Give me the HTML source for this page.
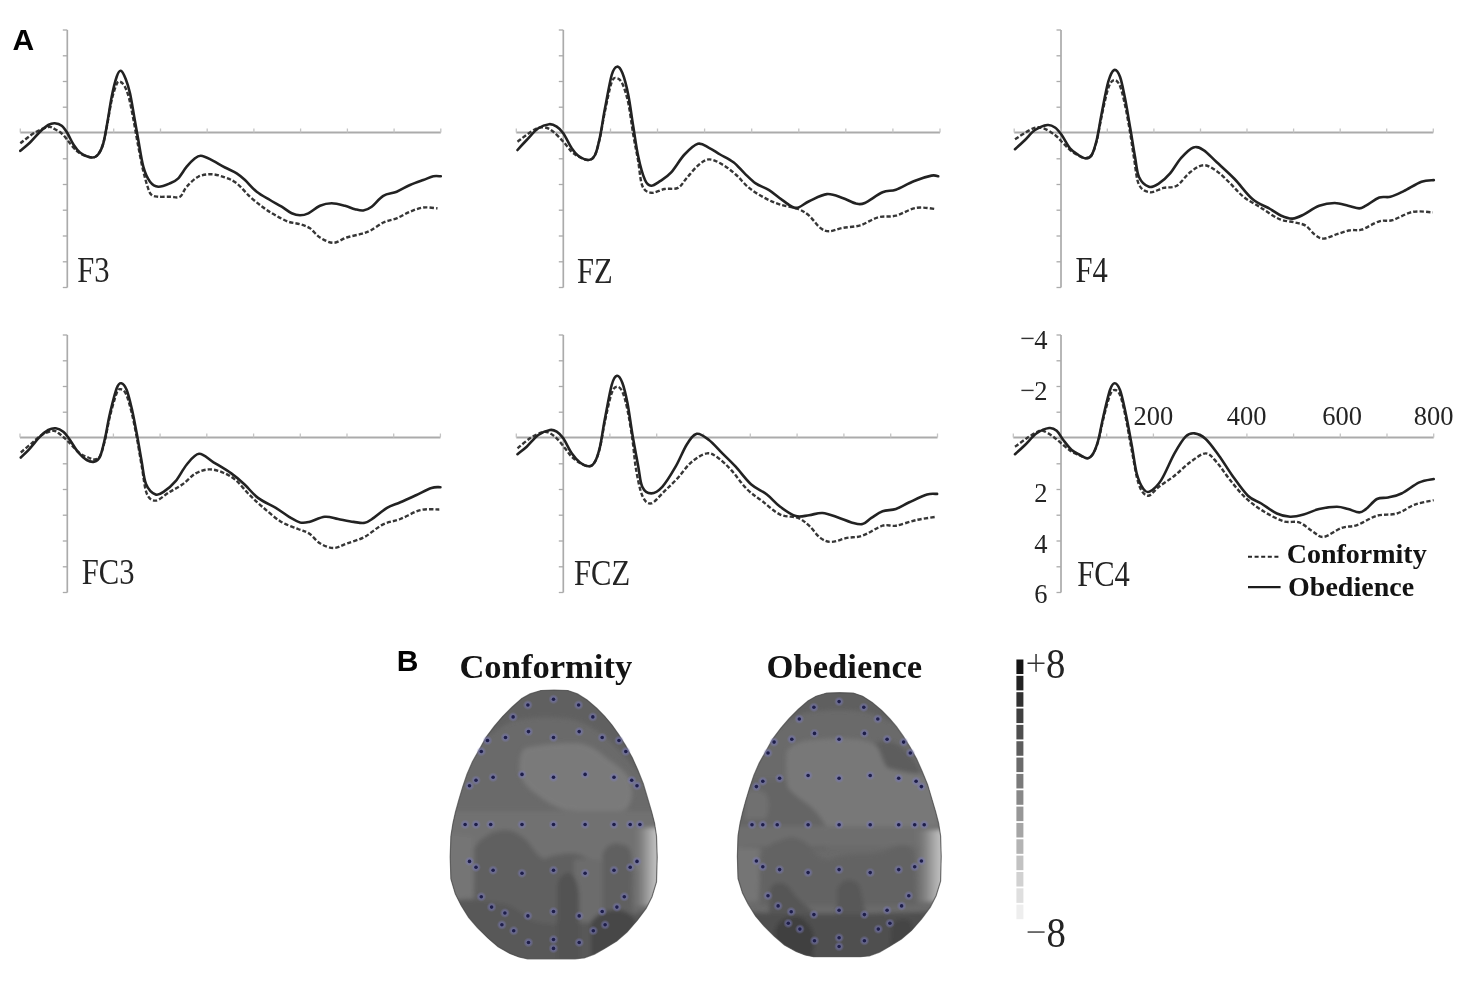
<!DOCTYPE html>
<html><head><meta charset="utf-8"><style>
html,body{margin:0;padding:0;background:#fff;}
body{width:1477px;height:984px;overflow:hidden;}
svg{display:block;}
text{opacity:0.99;}
.lab{font-family:"Liberation Serif",serif;font-size:36px;fill:#222;}
.num{font-family:"Liberation Serif",serif;font-size:26.5px;fill:#222;}
.leg{font-family:"Liberation Serif",serif;font-size:28px;font-weight:bold;fill:#111;}
.ttl{font-family:"Liberation Serif",serif;font-size:34.6px;font-weight:bold;fill:#111;}
.big{font-family:"Liberation Sans",sans-serif;font-size:30px;font-weight:bold;fill:#000;}
.cb{font-family:"Liberation Serif",serif;font-size:43px;fill:#222;}
</style></head><body>
<svg width="1477" height="984" viewBox="0 0 1477 984">
<defs><radialGradient id="halo"><stop offset="0" stop-color="#6a6ab0" stop-opacity="0.9"/><stop offset="0.5" stop-color="#7878b8" stop-opacity="0.55"/><stop offset="1" stop-color="#8080c0" stop-opacity="0"/></radialGradient><linearGradient id="edg" x1="0" x2="1" y1="0" y2="0"><stop offset="0" stop-color="#6a6a6a" stop-opacity="0"/><stop offset="0.45" stop-color="#8a8a8a"/><stop offset="0.8" stop-color="#b8b8b8"/><stop offset="1" stop-color="#c8c8c8"/></linearGradient><filter id="soft" x="-5%" y="-5%" width="110%" height="110%"><feGaussianBlur stdDeviation="2.2"/></filter></defs>
<rect width="1477" height="984" fill="#fff"/>
<text x="12.6" y="49.8" class="big">A</text>
<text x="396.8" y="670.8" class="big">B</text>
<line x1="20.3" y1="132.5" x2="440.8" y2="132.5" stroke="#ababab" stroke-width="1.8"/>
<line x1="67.3" y1="30.0" x2="67.3" y2="287.5" stroke="#ababab" stroke-width="1.7"/>
<line x1="62.8" y1="30.0" x2="67.3" y2="30.0" stroke="#ababab" stroke-width="1.3"/>
<line x1="62.8" y1="55.8" x2="67.3" y2="55.8" stroke="#ababab" stroke-width="1.3"/>
<line x1="62.8" y1="81.5" x2="67.3" y2="81.5" stroke="#ababab" stroke-width="1.3"/>
<line x1="62.8" y1="107.2" x2="67.3" y2="107.2" stroke="#ababab" stroke-width="1.3"/>
<line x1="62.8" y1="133.0" x2="67.3" y2="133.0" stroke="#ababab" stroke-width="1.3"/>
<line x1="62.8" y1="158.8" x2="67.3" y2="158.8" stroke="#ababab" stroke-width="1.3"/>
<line x1="62.8" y1="184.5" x2="67.3" y2="184.5" stroke="#ababab" stroke-width="1.3"/>
<line x1="62.8" y1="210.2" x2="67.3" y2="210.2" stroke="#ababab" stroke-width="1.3"/>
<line x1="62.8" y1="236.0" x2="67.3" y2="236.0" stroke="#ababab" stroke-width="1.3"/>
<line x1="62.8" y1="261.8" x2="67.3" y2="261.8" stroke="#ababab" stroke-width="1.3"/>
<line x1="62.8" y1="287.5" x2="67.3" y2="287.5" stroke="#ababab" stroke-width="1.3"/>
<line x1="20.3" y1="128.5" x2="20.3" y2="132.5" stroke="#c4c4c4" stroke-width="1.3"/>
<line x1="67.0" y1="128.5" x2="67.0" y2="132.5" stroke="#c4c4c4" stroke-width="1.3"/>
<line x1="113.7" y1="128.5" x2="113.7" y2="132.5" stroke="#c4c4c4" stroke-width="1.3"/>
<line x1="160.5" y1="128.5" x2="160.5" y2="132.5" stroke="#c4c4c4" stroke-width="1.3"/>
<line x1="207.2" y1="128.5" x2="207.2" y2="132.5" stroke="#c4c4c4" stroke-width="1.3"/>
<line x1="253.9" y1="128.5" x2="253.9" y2="132.5" stroke="#c4c4c4" stroke-width="1.3"/>
<line x1="300.6" y1="128.5" x2="300.6" y2="132.5" stroke="#c4c4c4" stroke-width="1.3"/>
<line x1="347.4" y1="128.5" x2="347.4" y2="132.5" stroke="#c4c4c4" stroke-width="1.3"/>
<line x1="394.1" y1="128.5" x2="394.1" y2="132.5" stroke="#c4c4c4" stroke-width="1.3"/>
<line x1="440.8" y1="128.5" x2="440.8" y2="132.5" stroke="#c4c4c4" stroke-width="1.3"/>
<path d="M20.3,143.3 C22.8,141.5 30.3,135.2 35.0,132.5 C39.7,129.8 45.0,127.5 48.3,127.0 C51.6,126.5 52.5,127.9 55.0,129.2 C57.5,130.5 60.2,131.9 63.3,135.0 C66.3,138.1 70.5,144.4 73.3,147.5 C76.1,150.6 76.9,151.6 80.0,153.3 C83.1,155.0 88.7,157.3 91.7,157.5 C94.8,157.7 96.4,156.6 98.3,154.2 C100.2,151.8 101.8,148.5 103.3,143.3 C104.8,138.1 106.1,130.2 107.5,123.0 C108.9,115.8 110.2,106.5 111.7,100.0 C113.2,93.5 115.3,87.0 116.7,84.0 C118.1,81.0 118.7,81.4 120.0,81.7 C121.3,82.0 123.0,83.3 124.5,86.0 C126.0,88.7 127.5,92.3 129.0,98.0 C130.5,103.7 132.0,112.2 133.5,120.0 C135.0,127.8 136.4,136.7 138.0,145.0 C139.6,153.3 141.3,162.8 143.0,170.0 C144.7,177.2 146.6,183.8 148.0,188.0 C149.4,192.2 150.0,193.6 151.7,195.0 C153.4,196.4 154.9,196.4 158.0,196.7 C161.1,197.0 166.3,196.7 170.0,196.7 C173.7,196.7 177.2,198.4 180.0,196.7 C182.8,195.0 183.6,190.0 186.7,186.7 C189.8,183.4 194.1,178.8 198.3,176.7 C202.5,174.6 207.2,174.1 211.7,174.2 C216.1,174.3 220.8,176.0 225.0,177.5 C229.2,179.0 232.5,180.1 236.7,183.3 C240.9,186.5 245.6,192.7 250.0,196.7 C254.4,200.7 259.1,204.4 263.3,207.5 C267.5,210.6 270.8,212.6 275.0,215.0 C279.2,217.4 284.1,220.2 288.3,221.7 C292.5,223.2 296.4,223.1 300.0,224.2 C303.6,225.3 306.7,226.1 310.0,228.3 C313.3,230.5 316.1,235.1 320.0,237.5 C323.9,239.9 328.9,242.8 333.3,242.8 C337.8,242.8 342.2,238.9 346.7,237.5 C351.1,236.1 356.1,235.3 360.0,234.2 C363.9,233.1 366.1,232.8 370.0,230.8 C373.9,228.9 378.9,224.6 383.3,222.5 C387.8,220.4 392.2,220.1 396.7,218.3 C401.1,216.5 405.6,213.5 410.0,211.7 C414.4,209.9 418.7,208.1 423.3,207.5 C427.9,206.9 435.1,208.2 437.5,208.3" fill="none" stroke="#363636" stroke-width="2.4" stroke-dasharray="4.3 2.1" stroke-linejoin="round"/>
<path d="M20.3,150.8 C21.9,149.4 26.7,145.7 30.0,142.5 C33.3,139.3 37.0,134.6 40.0,131.7 C43.0,128.8 45.8,126.4 48.3,125.0 C50.8,123.6 52.5,123.2 54.7,123.3 C56.9,123.4 59.6,124.1 61.7,125.8 C63.8,127.5 65.6,130.2 67.5,133.3 C69.4,136.4 71.2,141.0 73.3,144.2 C75.4,147.4 76.9,150.3 80.0,152.5 C83.1,154.7 88.7,157.2 91.7,157.5 C94.8,157.8 96.4,156.6 98.3,154.2 C100.2,151.8 101.8,148.7 103.3,143.3 C104.8,137.9 106.1,129.5 107.5,121.7 C108.9,113.9 110.2,104.2 111.7,96.7 C113.2,89.2 115.2,81.0 116.7,76.7 C118.2,72.4 119.3,70.4 120.8,70.8 C122.3,71.2 124.3,75.5 125.8,79.2 C127.3,83.0 128.6,87.0 130.0,93.3 C131.4,99.5 132.8,108.9 134.2,116.7 C135.6,124.5 136.8,131.7 138.3,140.0 C139.8,148.3 141.4,159.8 143.3,166.7 C145.2,173.6 147.5,178.4 150.0,181.7 C152.5,185.0 155.0,186.4 158.3,186.7 C161.6,187.0 166.7,184.7 170.0,183.3 C173.3,181.9 175.5,181.1 178.3,178.3 C181.1,175.5 183.9,170.0 186.7,166.7 C189.5,163.4 192.7,160.1 195.0,158.3 C197.3,156.5 198.3,155.7 200.8,155.8 C203.3,156.0 206.0,157.2 210.0,159.2 C214.0,161.1 220.6,165.2 225.0,167.5 C229.4,169.8 233.4,171.2 236.7,173.3 C240.0,175.4 241.7,176.9 245.0,180.0 C248.3,183.1 252.5,188.4 256.7,191.7 C260.9,195.0 265.8,197.5 270.0,200.0 C274.2,202.5 278.1,204.5 281.7,206.7 C285.3,208.9 288.6,211.9 291.7,213.3 C294.8,214.7 297.2,215.3 300.0,215.3 C302.8,215.3 305.0,214.9 308.3,213.3 C311.6,211.7 316.1,207.5 320.0,205.8 C323.9,204.1 327.5,203.3 331.7,203.3 C335.9,203.3 341.1,204.8 345.0,205.8 C348.9,206.8 351.9,208.4 355.0,209.2 C358.1,210.0 360.5,210.9 363.3,210.5 C366.1,210.1 368.4,209.1 371.7,206.7 C375.0,204.2 379.1,198.3 383.3,195.8 C387.5,193.3 392.2,193.5 396.7,191.7 C401.1,189.9 405.6,186.9 410.0,185.0 C414.4,183.1 419.4,181.4 423.3,180.0 C427.2,178.6 430.4,176.9 433.3,176.3 C436.2,175.7 439.6,176.3 440.8,176.3" fill="none" stroke="#222222" stroke-width="2.6" stroke-linejoin="round" stroke-linecap="round"/>
<text x="77.3" y="282.3" class="lab" transform="translate(77.3,0) scale(0.85,1) translate(-77.3,0)">F3</text>
<line x1="516.3" y1="132.5" x2="940.0" y2="132.5" stroke="#ababab" stroke-width="1.8"/>
<line x1="563.3" y1="30.0" x2="563.3" y2="287.5" stroke="#ababab" stroke-width="1.7"/>
<line x1="558.8" y1="30.0" x2="563.3" y2="30.0" stroke="#ababab" stroke-width="1.3"/>
<line x1="558.8" y1="55.8" x2="563.3" y2="55.8" stroke="#ababab" stroke-width="1.3"/>
<line x1="558.8" y1="81.5" x2="563.3" y2="81.5" stroke="#ababab" stroke-width="1.3"/>
<line x1="558.8" y1="107.2" x2="563.3" y2="107.2" stroke="#ababab" stroke-width="1.3"/>
<line x1="558.8" y1="133.0" x2="563.3" y2="133.0" stroke="#ababab" stroke-width="1.3"/>
<line x1="558.8" y1="158.8" x2="563.3" y2="158.8" stroke="#ababab" stroke-width="1.3"/>
<line x1="558.8" y1="184.5" x2="563.3" y2="184.5" stroke="#ababab" stroke-width="1.3"/>
<line x1="558.8" y1="210.2" x2="563.3" y2="210.2" stroke="#ababab" stroke-width="1.3"/>
<line x1="558.8" y1="236.0" x2="563.3" y2="236.0" stroke="#ababab" stroke-width="1.3"/>
<line x1="558.8" y1="261.8" x2="563.3" y2="261.8" stroke="#ababab" stroke-width="1.3"/>
<line x1="558.8" y1="287.5" x2="563.3" y2="287.5" stroke="#ababab" stroke-width="1.3"/>
<line x1="516.3" y1="128.5" x2="516.3" y2="132.5" stroke="#c4c4c4" stroke-width="1.3"/>
<line x1="563.4" y1="128.5" x2="563.4" y2="132.5" stroke="#c4c4c4" stroke-width="1.3"/>
<line x1="610.5" y1="128.5" x2="610.5" y2="132.5" stroke="#c4c4c4" stroke-width="1.3"/>
<line x1="657.5" y1="128.5" x2="657.5" y2="132.5" stroke="#c4c4c4" stroke-width="1.3"/>
<line x1="704.6" y1="128.5" x2="704.6" y2="132.5" stroke="#c4c4c4" stroke-width="1.3"/>
<line x1="751.7" y1="128.5" x2="751.7" y2="132.5" stroke="#c4c4c4" stroke-width="1.3"/>
<line x1="798.8" y1="128.5" x2="798.8" y2="132.5" stroke="#c4c4c4" stroke-width="1.3"/>
<line x1="845.8" y1="128.5" x2="845.8" y2="132.5" stroke="#c4c4c4" stroke-width="1.3"/>
<line x1="892.9" y1="128.5" x2="892.9" y2="132.5" stroke="#c4c4c4" stroke-width="1.3"/>
<line x1="940.0" y1="128.5" x2="940.0" y2="132.5" stroke="#c4c4c4" stroke-width="1.3"/>
<path d="M517.5,141.7 C520.4,139.6 530.4,131.6 535.0,129.2 C539.6,126.8 542.0,127.1 545.0,127.5 C548.0,127.9 550.2,129.3 553.3,131.7 C556.3,134.1 560.2,138.4 563.3,141.7 C566.4,145.0 569.2,149.2 571.7,151.7 C574.2,154.2 575.5,155.1 578.3,156.5 C581.1,157.9 585.5,160.2 588.3,160.0 C591.1,159.8 593.0,158.8 595.0,155.0 C597.0,151.2 598.3,144.8 600.0,137.5 C601.7,130.2 603.0,120.2 605.0,111.0 C607.0,101.8 609.7,87.5 611.7,82.0 C613.7,76.5 615.2,78.0 617.0,78.3 C618.8,78.6 620.6,79.9 622.5,84.0 C624.4,88.1 626.5,94.5 628.3,103.0 C630.1,111.5 631.7,125.5 633.3,135.0 C634.9,144.5 636.5,151.6 638.0,160.0 C639.5,168.4 640.1,180.2 642.3,185.7 C644.5,191.2 647.5,192.2 651.2,192.8 C654.9,193.4 660.0,189.8 664.5,189.0 C669.0,188.2 674.2,189.8 677.9,187.9 C681.6,186.1 683.5,181.6 686.8,177.9 C690.1,174.2 694.2,168.7 697.9,165.6 C701.6,162.5 704.9,159.6 709.0,159.4 C713.1,159.2 717.9,162.0 722.4,164.5 C726.9,167.0 731.2,170.6 735.7,174.5 C740.2,178.4 744.3,184.0 749.1,187.9 C753.9,191.8 759.4,195.1 764.6,197.9 C769.8,200.7 774.6,202.8 780.2,204.6 C785.8,206.4 793.2,207.2 798.0,209.0 C802.8,210.8 805.4,212.5 809.1,215.7 C812.8,218.8 816.9,225.3 820.3,227.9 C823.6,230.5 825.5,231.3 829.2,231.3 C832.9,231.3 837.3,228.9 842.5,227.9 C847.7,226.9 854.4,227.1 860.3,225.3 C866.2,223.5 872.2,218.9 878.1,217.3 C884.0,215.7 889.6,217.3 895.9,215.7 C902.2,214.1 909.3,209.0 916.0,207.9 C922.7,206.8 932.7,208.8 936.0,209.0" fill="none" stroke="#363636" stroke-width="2.4" stroke-dasharray="4.3 2.1" stroke-linejoin="round"/>
<path d="M517.5,150.0 C519.0,148.3 523.2,143.6 526.7,140.0 C530.2,136.4 534.5,130.9 538.3,128.3 C542.0,125.7 546.1,124.5 549.2,124.2 C552.3,123.9 554.4,125.2 556.7,126.7 C559.1,128.2 560.8,129.7 563.3,133.3 C565.8,136.9 569.2,144.6 571.7,148.3 C574.2,152.1 575.5,153.9 578.3,155.8 C581.1,157.8 585.5,160.1 588.3,160.0 C591.1,159.9 593.0,158.9 595.0,155.0 C597.0,151.1 598.3,144.5 600.0,136.7 C601.7,128.9 603.0,118.6 605.0,108.3 C607.0,98.0 609.7,81.9 611.7,75.0 C613.7,68.1 615.2,67.0 617.0,66.7 C618.8,66.4 620.6,68.6 622.5,73.3 C624.4,78.0 626.5,86.1 628.3,95.0 C630.1,103.9 631.6,116.4 633.3,126.7 C635.0,137.0 636.3,147.8 638.3,156.7 C640.2,165.6 642.9,175.2 645.0,180.0 C647.1,184.8 648.7,185.5 651.2,185.7 C653.7,185.9 656.7,183.4 660.0,181.2 C663.3,179.0 667.1,176.8 671.2,172.3 C675.3,167.9 680.0,159.2 684.5,154.5 C689.0,149.8 693.8,144.9 697.9,143.8 C702.0,142.7 705.3,146.0 709.0,147.8 C712.7,149.6 716.0,152.1 720.1,154.5 C724.2,156.9 729.4,159.2 733.5,162.3 C737.6,165.5 740.9,169.9 744.6,173.4 C748.3,176.9 751.6,180.6 755.7,183.4 C759.8,186.2 764.7,187.3 769.1,190.1 C773.5,192.9 778.0,197.1 782.4,200.1 C786.8,203.1 791.3,207.7 795.8,207.9 C800.2,208.1 803.9,203.5 809.1,201.2 C814.3,198.9 821.3,194.6 826.9,194.1 C832.5,193.6 837.7,196.3 842.5,197.9 C847.3,199.5 852.2,202.7 855.9,203.5 C859.6,204.3 860.3,204.9 864.8,203.0 C869.2,201.1 877.4,194.5 882.6,192.3 C887.8,190.1 890.7,191.5 895.9,189.7 C901.1,187.8 907.8,183.5 913.7,181.2 C919.6,178.8 927.4,176.4 931.5,175.6 C935.6,174.8 937.1,176.2 938.2,176.3" fill="none" stroke="#222222" stroke-width="2.6" stroke-linejoin="round" stroke-linecap="round"/>
<text x="577.0" y="282.9" class="lab" transform="translate(577.0,0) scale(0.85,1) translate(-577.0,0)">FZ</text>
<line x1="1014.2" y1="132.5" x2="1433.3" y2="132.5" stroke="#ababab" stroke-width="1.8"/>
<line x1="1061.0" y1="30.0" x2="1061.0" y2="287.5" stroke="#ababab" stroke-width="1.7"/>
<line x1="1056.5" y1="30.0" x2="1061.0" y2="30.0" stroke="#ababab" stroke-width="1.3"/>
<line x1="1056.5" y1="55.8" x2="1061.0" y2="55.8" stroke="#ababab" stroke-width="1.3"/>
<line x1="1056.5" y1="81.5" x2="1061.0" y2="81.5" stroke="#ababab" stroke-width="1.3"/>
<line x1="1056.5" y1="107.2" x2="1061.0" y2="107.2" stroke="#ababab" stroke-width="1.3"/>
<line x1="1056.5" y1="133.0" x2="1061.0" y2="133.0" stroke="#ababab" stroke-width="1.3"/>
<line x1="1056.5" y1="158.8" x2="1061.0" y2="158.8" stroke="#ababab" stroke-width="1.3"/>
<line x1="1056.5" y1="184.5" x2="1061.0" y2="184.5" stroke="#ababab" stroke-width="1.3"/>
<line x1="1056.5" y1="210.2" x2="1061.0" y2="210.2" stroke="#ababab" stroke-width="1.3"/>
<line x1="1056.5" y1="236.0" x2="1061.0" y2="236.0" stroke="#ababab" stroke-width="1.3"/>
<line x1="1056.5" y1="261.8" x2="1061.0" y2="261.8" stroke="#ababab" stroke-width="1.3"/>
<line x1="1056.5" y1="287.5" x2="1061.0" y2="287.5" stroke="#ababab" stroke-width="1.3"/>
<line x1="1014.2" y1="128.5" x2="1014.2" y2="132.5" stroke="#c4c4c4" stroke-width="1.3"/>
<line x1="1060.8" y1="128.5" x2="1060.8" y2="132.5" stroke="#c4c4c4" stroke-width="1.3"/>
<line x1="1107.3" y1="128.5" x2="1107.3" y2="132.5" stroke="#c4c4c4" stroke-width="1.3"/>
<line x1="1153.9" y1="128.5" x2="1153.9" y2="132.5" stroke="#c4c4c4" stroke-width="1.3"/>
<line x1="1200.5" y1="128.5" x2="1200.5" y2="132.5" stroke="#c4c4c4" stroke-width="1.3"/>
<line x1="1247.0" y1="128.5" x2="1247.0" y2="132.5" stroke="#c4c4c4" stroke-width="1.3"/>
<line x1="1293.6" y1="128.5" x2="1293.6" y2="132.5" stroke="#c4c4c4" stroke-width="1.3"/>
<line x1="1340.2" y1="128.5" x2="1340.2" y2="132.5" stroke="#c4c4c4" stroke-width="1.3"/>
<line x1="1386.7" y1="128.5" x2="1386.7" y2="132.5" stroke="#c4c4c4" stroke-width="1.3"/>
<line x1="1433.3" y1="128.5" x2="1433.3" y2="132.5" stroke="#c4c4c4" stroke-width="1.3"/>
<path d="M1015.0,139.2 C1018.0,137.4 1028.6,130.1 1033.3,128.3 C1038.0,126.5 1039.7,127.2 1043.3,128.3 C1046.9,129.4 1051.7,132.5 1055.0,135.0 C1058.3,137.5 1060.8,140.8 1063.3,143.3 C1065.8,145.8 1067.5,148.0 1070.0,150.0 C1072.5,152.0 1075.7,154.1 1078.3,155.5 C1080.9,156.9 1083.6,158.4 1085.8,158.3 C1088.0,158.2 1089.9,157.9 1091.7,155.0 C1093.5,152.1 1095.0,147.5 1096.7,141.0 C1098.4,134.5 1099.8,124.8 1101.7,116.0 C1103.6,107.2 1106.2,94.0 1108.3,88.0 C1110.4,82.0 1112.2,80.3 1114.2,80.0 C1116.2,79.7 1118.2,81.8 1120.0,86.0 C1121.8,90.2 1123.3,97.3 1125.0,105.0 C1126.7,112.7 1128.5,123.2 1130.0,132.0 C1131.5,140.8 1132.5,149.2 1134.0,158.0 C1135.5,166.8 1136.2,178.8 1138.9,184.5 C1141.6,190.2 1145.9,191.7 1150.0,192.3 C1154.1,192.9 1158.9,189.0 1163.4,187.9 C1167.9,186.8 1172.3,188.3 1176.8,185.7 C1181.2,183.1 1185.6,175.7 1190.1,172.3 C1194.5,168.9 1199.0,165.4 1203.5,165.2 C1208.0,165.0 1212.3,168.2 1216.8,171.2 C1221.2,174.2 1225.8,179.1 1230.2,183.4 C1234.7,187.7 1238.3,192.7 1243.5,196.8 C1248.7,200.9 1255.4,204.2 1261.3,207.9 C1267.2,211.6 1273.5,216.6 1279.1,219.0 C1284.7,221.4 1290.2,221.3 1294.7,222.4 C1299.2,223.5 1302.5,223.7 1305.8,225.7 C1309.1,227.7 1311.7,232.4 1314.7,234.6 C1317.7,236.8 1319.9,238.7 1323.6,238.6 C1327.3,238.5 1332.5,235.6 1337.0,234.2 C1341.5,232.8 1346.2,230.9 1350.3,230.2 C1354.4,229.4 1356.7,231.2 1361.5,229.7 C1366.3,228.2 1374.1,222.9 1379.3,221.3 C1384.5,219.7 1387.0,221.7 1392.6,220.1 C1398.1,218.5 1405.9,213.2 1412.6,211.9 C1419.3,210.6 1429.3,212.3 1432.7,212.4" fill="none" stroke="#363636" stroke-width="2.4" stroke-dasharray="4.3 2.1" stroke-linejoin="round"/>
<path d="M1015.0,149.2 C1016.7,147.7 1021.7,143.2 1025.0,140.0 C1028.3,136.8 1031.2,132.5 1035.0,130.0 C1038.8,127.5 1044.2,125.4 1047.5,125.0 C1050.8,124.6 1052.6,125.8 1055.0,127.5 C1057.4,129.2 1059.2,131.5 1061.7,135.0 C1064.2,138.5 1067.2,145.0 1070.0,148.3 C1072.8,151.6 1075.7,153.3 1078.3,155.0 C1080.9,156.7 1083.6,158.3 1085.8,158.3 C1088.0,158.3 1089.9,158.1 1091.7,155.0 C1093.5,151.9 1095.0,146.9 1096.7,140.0 C1098.4,133.1 1099.8,123.0 1101.7,113.3 C1103.6,103.6 1106.2,88.9 1108.3,81.7 C1110.4,74.5 1112.2,70.8 1114.2,70.0 C1116.2,69.2 1118.2,72.0 1120.0,76.7 C1121.8,81.4 1123.3,90.0 1125.0,98.3 C1126.7,106.6 1128.3,117.0 1130.0,126.7 C1131.7,136.4 1133.5,148.3 1135.0,156.7 C1136.5,165.1 1136.7,172.0 1139.0,177.0 C1141.3,182.0 1145.6,185.7 1148.9,186.8 C1152.2,187.9 1155.5,185.6 1159.0,183.4 C1162.5,181.2 1166.4,177.7 1170.1,173.4 C1173.8,169.1 1177.3,162.1 1181.2,157.8 C1185.1,153.5 1189.7,148.7 1193.4,147.4 C1197.1,146.1 1199.6,147.6 1203.5,150.1 C1207.4,152.6 1211.6,157.5 1216.8,162.3 C1222.0,167.1 1228.7,172.9 1234.6,179.0 C1240.5,185.1 1246.5,194.0 1252.4,199.0 C1258.3,204.0 1265.4,206.2 1270.2,209.0 C1275.0,211.8 1277.6,214.1 1281.3,215.7 C1285.0,217.3 1288.8,218.8 1292.5,218.6 C1296.2,218.4 1299.1,216.8 1303.6,214.6 C1308.0,212.4 1314.0,207.6 1319.2,205.7 C1324.4,203.8 1329.9,203.0 1334.7,203.0 C1339.5,203.0 1344.0,204.8 1348.1,205.7 C1352.2,206.6 1356.2,208.4 1359.2,208.4 C1362.2,208.4 1362.6,207.5 1365.9,205.7 C1369.2,203.9 1375.2,199.0 1379.3,197.5 C1383.4,196.0 1386.3,197.9 1390.4,196.8 C1394.5,195.8 1398.5,193.7 1403.7,191.2 C1408.9,188.7 1416.5,183.5 1421.5,181.7 C1426.5,179.8 1431.8,180.4 1433.8,180.1" fill="none" stroke="#222222" stroke-width="2.6" stroke-linejoin="round" stroke-linecap="round"/>
<text x="1075.4" y="282.1" class="lab" transform="translate(1075.4,0) scale(0.85,1) translate(-1075.4,0)">F4</text>
<line x1="20.0" y1="437.5" x2="440.4" y2="437.5" stroke="#ababab" stroke-width="1.8"/>
<line x1="67.3" y1="335.0" x2="67.3" y2="592.5" stroke="#ababab" stroke-width="1.7"/>
<line x1="62.8" y1="335.0" x2="67.3" y2="335.0" stroke="#ababab" stroke-width="1.3"/>
<line x1="62.8" y1="360.8" x2="67.3" y2="360.8" stroke="#ababab" stroke-width="1.3"/>
<line x1="62.8" y1="386.5" x2="67.3" y2="386.5" stroke="#ababab" stroke-width="1.3"/>
<line x1="62.8" y1="412.2" x2="67.3" y2="412.2" stroke="#ababab" stroke-width="1.3"/>
<line x1="62.8" y1="438.0" x2="67.3" y2="438.0" stroke="#ababab" stroke-width="1.3"/>
<line x1="62.8" y1="463.8" x2="67.3" y2="463.8" stroke="#ababab" stroke-width="1.3"/>
<line x1="62.8" y1="489.5" x2="67.3" y2="489.5" stroke="#ababab" stroke-width="1.3"/>
<line x1="62.8" y1="515.2" x2="67.3" y2="515.2" stroke="#ababab" stroke-width="1.3"/>
<line x1="62.8" y1="541.0" x2="67.3" y2="541.0" stroke="#ababab" stroke-width="1.3"/>
<line x1="62.8" y1="566.8" x2="67.3" y2="566.8" stroke="#ababab" stroke-width="1.3"/>
<line x1="62.8" y1="592.5" x2="67.3" y2="592.5" stroke="#ababab" stroke-width="1.3"/>
<line x1="20.0" y1="433.5" x2="20.0" y2="437.5" stroke="#c4c4c4" stroke-width="1.3"/>
<line x1="66.7" y1="433.5" x2="66.7" y2="437.5" stroke="#c4c4c4" stroke-width="1.3"/>
<line x1="113.4" y1="433.5" x2="113.4" y2="437.5" stroke="#c4c4c4" stroke-width="1.3"/>
<line x1="160.1" y1="433.5" x2="160.1" y2="437.5" stroke="#c4c4c4" stroke-width="1.3"/>
<line x1="206.8" y1="433.5" x2="206.8" y2="437.5" stroke="#c4c4c4" stroke-width="1.3"/>
<line x1="253.6" y1="433.5" x2="253.6" y2="437.5" stroke="#c4c4c4" stroke-width="1.3"/>
<line x1="300.3" y1="433.5" x2="300.3" y2="437.5" stroke="#c4c4c4" stroke-width="1.3"/>
<line x1="347.0" y1="433.5" x2="347.0" y2="437.5" stroke="#c4c4c4" stroke-width="1.3"/>
<line x1="393.7" y1="433.5" x2="393.7" y2="437.5" stroke="#c4c4c4" stroke-width="1.3"/>
<line x1="440.4" y1="433.5" x2="440.4" y2="437.5" stroke="#c4c4c4" stroke-width="1.3"/>
<path d="M20.8,452.5 C22.6,451.0 28.2,446.2 31.7,443.3 C35.2,440.4 38.1,437.1 41.7,435.0 C45.3,432.9 50.2,430.9 53.3,430.8 C56.3,430.7 57.5,432.4 60.0,434.2 C62.5,436.0 65.0,438.5 68.3,441.7 C71.6,444.9 76.7,450.7 80.0,453.3 C83.3,455.9 85.9,456.5 88.3,457.5 C90.7,458.5 92.2,459.8 94.2,459.5 C96.2,459.2 98.2,459.2 100.0,456.0 C101.8,452.8 103.3,446.7 105.0,440.0 C106.7,433.3 108.0,423.8 110.0,416.0 C112.0,408.2 114.9,397.5 116.7,393.0 C118.5,388.5 119.2,389.0 120.8,389.2 C122.3,389.4 124.2,390.2 126.0,394.0 C127.8,397.8 129.7,404.8 131.5,412.0 C133.3,419.2 135.0,428.0 136.7,437.0 C138.4,446.0 140.0,456.6 141.7,466.0 C143.4,475.4 144.4,487.6 146.7,493.4 C149.0,499.2 151.9,500.8 155.6,500.6 C159.3,500.4 164.6,495.0 169.0,492.3 C173.4,489.6 177.9,487.6 182.3,484.5 C186.8,481.4 191.2,475.9 195.7,473.4 C200.1,470.9 204.6,469.6 209.0,469.4 C213.4,469.2 218.0,470.5 222.4,472.3 C226.8,474.1 231.2,476.4 235.7,480.1 C240.1,483.8 244.7,490.1 249.1,494.5 C253.5,498.9 257.2,502.4 262.4,506.8 C267.6,511.2 274.3,517.5 280.2,521.2 C286.1,524.9 293.2,527.0 298.0,529.0 C302.8,531.0 305.4,531.1 309.1,533.5 C312.8,535.9 316.2,541.1 320.3,543.5 C324.4,545.9 329.2,548.0 333.6,548.0 C338.1,548.0 341.8,545.4 347.0,543.5 C352.2,541.6 358.9,539.9 364.8,536.8 C370.7,533.6 376.7,527.6 382.6,524.6 C388.5,521.6 394.1,521.4 400.4,519.0 C406.7,516.6 413.9,511.7 420.4,510.1 C426.9,508.5 436.1,509.6 439.3,509.5" fill="none" stroke="#363636" stroke-width="2.4" stroke-dasharray="4.3 2.1" stroke-linejoin="round"/>
<path d="M20.8,457.5 C22.3,456.0 26.8,451.8 30.0,448.3 C33.2,444.8 37.0,439.8 40.0,436.7 C43.0,433.6 45.7,431.4 48.3,430.0 C50.9,428.6 53.3,428.0 55.8,428.3 C58.3,428.6 60.9,429.8 63.3,431.7 C65.7,433.6 67.5,436.5 70.0,440.0 C72.5,443.5 75.5,449.2 78.3,452.5 C81.1,455.8 84.0,458.5 86.7,460.0 C89.4,461.5 92.0,462.2 94.2,461.7 C96.4,461.1 98.2,460.6 100.0,456.7 C101.8,452.8 103.3,445.5 105.0,438.3 C106.7,431.1 108.0,421.6 110.0,413.3 C112.0,405.0 114.8,393.3 116.7,388.3 C118.6,383.3 119.6,383.0 121.3,383.3 C123.0,383.6 125.0,385.8 126.7,390.0 C128.4,394.2 130.0,401.1 131.7,408.3 C133.4,415.5 135.0,424.4 136.7,433.3 C138.4,442.2 140.1,453.2 141.7,461.7 C143.2,470.1 143.7,478.5 146.0,484.0 C148.3,489.5 152.5,493.3 155.6,494.5 C158.7,495.7 161.2,493.4 164.5,491.2 C167.8,489.0 171.9,485.6 175.6,481.2 C179.3,476.8 182.9,469.1 186.8,464.5 C190.7,459.9 194.6,454.2 199.0,453.8 C203.4,453.4 208.1,459.0 213.5,462.3 C218.9,465.6 226.1,469.7 231.3,473.4 C236.5,477.1 240.2,480.4 244.6,484.5 C249.0,488.6 252.8,494.0 258.0,497.9 C263.2,501.8 270.6,504.8 275.8,507.9 C281.0,511.0 285.0,514.4 289.1,516.8 C293.2,519.2 296.9,521.5 300.2,522.4 C303.5,523.2 305.0,522.8 309.1,521.9 C313.2,521.0 319.9,517.3 324.7,516.8 C329.5,516.3 333.3,518.1 338.1,519.0 C342.9,519.9 349.2,521.3 353.6,521.9 C358.1,522.5 361.5,523.5 364.8,522.8 C368.1,522.1 370.0,520.4 373.7,517.9 C377.4,515.4 382.6,510.5 387.0,507.9 C391.4,505.3 395.6,504.4 400.4,502.3 C405.2,500.2 410.8,497.6 416.0,495.2 C421.2,492.8 427.4,489.2 431.5,487.9 C435.6,486.6 438.9,487.3 440.4,487.2" fill="none" stroke="#222222" stroke-width="2.6" stroke-linejoin="round" stroke-linecap="round"/>
<text x="81.8" y="584.2" class="lab" transform="translate(81.8,0) scale(0.85,1) translate(-81.8,0)">FC3</text>
<line x1="516.3" y1="437.5" x2="937.5" y2="437.5" stroke="#ababab" stroke-width="1.8"/>
<line x1="563.3" y1="335.0" x2="563.3" y2="592.5" stroke="#ababab" stroke-width="1.7"/>
<line x1="558.8" y1="335.0" x2="563.3" y2="335.0" stroke="#ababab" stroke-width="1.3"/>
<line x1="558.8" y1="360.8" x2="563.3" y2="360.8" stroke="#ababab" stroke-width="1.3"/>
<line x1="558.8" y1="386.5" x2="563.3" y2="386.5" stroke="#ababab" stroke-width="1.3"/>
<line x1="558.8" y1="412.2" x2="563.3" y2="412.2" stroke="#ababab" stroke-width="1.3"/>
<line x1="558.8" y1="438.0" x2="563.3" y2="438.0" stroke="#ababab" stroke-width="1.3"/>
<line x1="558.8" y1="463.8" x2="563.3" y2="463.8" stroke="#ababab" stroke-width="1.3"/>
<line x1="558.8" y1="489.5" x2="563.3" y2="489.5" stroke="#ababab" stroke-width="1.3"/>
<line x1="558.8" y1="515.2" x2="563.3" y2="515.2" stroke="#ababab" stroke-width="1.3"/>
<line x1="558.8" y1="541.0" x2="563.3" y2="541.0" stroke="#ababab" stroke-width="1.3"/>
<line x1="558.8" y1="566.8" x2="563.3" y2="566.8" stroke="#ababab" stroke-width="1.3"/>
<line x1="558.8" y1="592.5" x2="563.3" y2="592.5" stroke="#ababab" stroke-width="1.3"/>
<line x1="516.3" y1="433.5" x2="516.3" y2="437.5" stroke="#c4c4c4" stroke-width="1.3"/>
<line x1="563.1" y1="433.5" x2="563.1" y2="437.5" stroke="#c4c4c4" stroke-width="1.3"/>
<line x1="609.9" y1="433.5" x2="609.9" y2="437.5" stroke="#c4c4c4" stroke-width="1.3"/>
<line x1="656.7" y1="433.5" x2="656.7" y2="437.5" stroke="#c4c4c4" stroke-width="1.3"/>
<line x1="703.5" y1="433.5" x2="703.5" y2="437.5" stroke="#c4c4c4" stroke-width="1.3"/>
<line x1="750.3" y1="433.5" x2="750.3" y2="437.5" stroke="#c4c4c4" stroke-width="1.3"/>
<line x1="797.1" y1="433.5" x2="797.1" y2="437.5" stroke="#c4c4c4" stroke-width="1.3"/>
<line x1="843.9" y1="433.5" x2="843.9" y2="437.5" stroke="#c4c4c4" stroke-width="1.3"/>
<line x1="890.7" y1="433.5" x2="890.7" y2="437.5" stroke="#c4c4c4" stroke-width="1.3"/>
<line x1="937.5" y1="433.5" x2="937.5" y2="437.5" stroke="#c4c4c4" stroke-width="1.3"/>
<path d="M517.5,448.3 C519.6,446.6 526.0,440.9 530.0,438.3 C534.0,435.7 538.7,433.5 541.7,432.5 C544.8,431.5 545.8,431.5 548.3,432.5 C550.8,433.5 553.9,435.7 556.7,438.3 C559.5,440.9 562.5,445.2 565.0,448.3 C567.5,451.4 569.2,454.2 571.7,456.7 C574.2,459.1 577.1,461.4 580.0,463.0 C582.9,464.6 586.7,466.5 589.2,466.3 C591.7,466.1 593.2,464.8 595.0,461.7 C596.8,458.6 598.3,454.3 600.0,447.5 C601.7,440.7 603.0,430.1 605.0,421.0 C607.0,411.9 609.7,398.7 611.7,393.0 C613.7,387.3 615.2,386.9 617.0,386.7 C618.8,386.5 620.8,388.1 622.5,392.0 C624.2,395.9 625.8,402.0 627.5,410.0 C629.2,418.0 631.1,430.2 632.5,440.0 C633.9,449.8 634.4,459.7 636.0,469.0 C637.6,478.3 639.8,490.0 642.3,495.7 C644.8,501.4 647.5,504.1 651.2,503.4 C654.9,502.6 660.0,495.4 664.5,491.2 C669.0,486.9 673.4,482.7 677.9,477.9 C682.4,473.1 686.4,466.4 691.2,462.3 C696.0,458.2 702.3,454.1 706.8,453.4 C711.2,452.6 713.8,455.0 717.9,457.8 C722.0,460.6 726.5,464.9 731.3,470.1 C736.1,475.3 741.6,483.8 746.8,489.0 C752.0,494.2 756.8,496.9 762.4,501.2 C768.0,505.5 774.3,511.8 780.2,514.6 C786.1,517.4 793.2,516.0 798.0,517.9 C802.8,519.8 805.4,522.4 809.1,525.7 C812.8,529.0 816.6,535.2 820.3,537.9 C824.0,540.6 826.9,541.9 831.4,541.9 C835.9,541.9 841.8,538.9 847.0,537.9 C852.2,536.9 856.6,537.7 862.5,535.7 C868.4,533.7 877.0,527.4 882.6,525.7 C888.2,524.0 890.3,526.6 895.9,525.7 C901.5,524.8 909.3,521.6 916.0,520.1 C922.7,518.6 932.7,517.3 936.0,516.8" fill="none" stroke="#363636" stroke-width="2.4" stroke-dasharray="4.3 2.1" stroke-linejoin="round"/>
<path d="M517.5,454.2 C519.0,452.9 523.2,449.9 526.7,446.7 C530.2,443.5 534.4,437.8 538.3,435.0 C542.2,432.2 546.9,430.6 550.0,430.0 C553.1,429.4 554.5,430.3 556.7,431.7 C558.9,433.1 560.8,434.7 563.3,438.3 C565.8,441.9 568.9,449.3 571.7,453.3 C574.5,457.3 577.1,460.3 580.0,462.5 C582.9,464.7 586.7,466.4 589.2,466.3 C591.7,466.2 593.2,465.0 595.0,461.7 C596.8,458.4 598.3,453.9 600.0,446.7 C601.7,439.5 603.0,428.6 605.0,418.3 C607.0,408.0 609.7,392.1 611.7,385.0 C613.7,377.9 615.2,376.1 617.0,375.8 C618.8,375.5 620.8,378.7 622.5,383.3 C624.2,387.9 625.8,394.7 627.5,403.3 C629.2,411.9 630.7,424.4 632.5,435.0 C634.3,445.6 636.7,458.1 638.3,466.7 C639.9,475.3 640.1,482.4 642.3,486.8 C644.4,491.2 647.9,493.4 651.2,493.4 C654.5,493.4 658.2,491.2 662.3,486.8 C666.4,482.4 671.5,473.8 675.6,466.7 C679.7,459.6 683.3,450.0 686.8,444.5 C690.3,439.0 693.1,434.6 696.8,433.8 C700.5,433.1 704.7,436.7 709.0,440.0 C713.3,443.3 717.9,448.9 722.4,453.4 C726.9,457.8 730.9,461.5 735.7,466.7 C740.5,471.9 746.1,479.9 751.3,484.5 C756.5,489.1 762.1,490.8 766.9,494.5 C771.7,498.2 775.4,503.2 780.2,506.8 C785.0,510.4 791.0,514.7 795.8,516.1 C800.6,517.5 804.6,515.7 809.1,515.2 C813.6,514.7 817.7,512.6 822.5,513.0 C827.3,513.4 833.3,515.9 838.1,517.5 C842.9,519.1 847.3,521.3 851.4,522.4 C855.5,523.5 859.2,524.9 862.5,524.1 C865.8,523.4 868.0,520.0 871.4,517.9 C874.8,515.8 878.5,512.7 882.6,511.2 C886.7,509.7 891.5,510.5 895.9,509.0 C900.3,507.5 904.1,504.7 909.3,502.3 C914.5,499.9 922.5,495.9 927.1,494.5 C931.7,493.1 935.4,494.0 937.1,493.9" fill="none" stroke="#222222" stroke-width="2.6" stroke-linejoin="round" stroke-linecap="round"/>
<text x="574.0" y="584.7" class="lab" transform="translate(574.0,0) scale(0.85,1) translate(-574.0,0)">FCZ</text>
<line x1="1013.3" y1="437.5" x2="1433.7" y2="437.5" stroke="#ababab" stroke-width="1.8"/>
<line x1="1061.0" y1="335.0" x2="1061.0" y2="592.5" stroke="#ababab" stroke-width="1.7"/>
<line x1="1056.5" y1="335.0" x2="1061.0" y2="335.0" stroke="#ababab" stroke-width="1.3"/>
<line x1="1056.5" y1="360.8" x2="1061.0" y2="360.8" stroke="#ababab" stroke-width="1.3"/>
<line x1="1056.5" y1="386.5" x2="1061.0" y2="386.5" stroke="#ababab" stroke-width="1.3"/>
<line x1="1056.5" y1="412.2" x2="1061.0" y2="412.2" stroke="#ababab" stroke-width="1.3"/>
<line x1="1056.5" y1="438.0" x2="1061.0" y2="438.0" stroke="#ababab" stroke-width="1.3"/>
<line x1="1056.5" y1="463.8" x2="1061.0" y2="463.8" stroke="#ababab" stroke-width="1.3"/>
<line x1="1056.5" y1="489.5" x2="1061.0" y2="489.5" stroke="#ababab" stroke-width="1.3"/>
<line x1="1056.5" y1="515.2" x2="1061.0" y2="515.2" stroke="#ababab" stroke-width="1.3"/>
<line x1="1056.5" y1="541.0" x2="1061.0" y2="541.0" stroke="#ababab" stroke-width="1.3"/>
<line x1="1056.5" y1="566.8" x2="1061.0" y2="566.8" stroke="#ababab" stroke-width="1.3"/>
<line x1="1056.5" y1="592.5" x2="1061.0" y2="592.5" stroke="#ababab" stroke-width="1.3"/>
<line x1="1013.3" y1="433.5" x2="1013.3" y2="437.5" stroke="#c4c4c4" stroke-width="1.3"/>
<line x1="1060.0" y1="433.5" x2="1060.0" y2="437.5" stroke="#c4c4c4" stroke-width="1.3"/>
<line x1="1106.7" y1="433.5" x2="1106.7" y2="437.5" stroke="#c4c4c4" stroke-width="1.3"/>
<line x1="1153.4" y1="433.5" x2="1153.4" y2="437.5" stroke="#c4c4c4" stroke-width="1.3"/>
<line x1="1200.1" y1="433.5" x2="1200.1" y2="437.5" stroke="#c4c4c4" stroke-width="1.3"/>
<line x1="1246.9" y1="433.5" x2="1246.9" y2="437.5" stroke="#c4c4c4" stroke-width="1.3"/>
<line x1="1293.6" y1="433.5" x2="1293.6" y2="437.5" stroke="#c4c4c4" stroke-width="1.3"/>
<line x1="1340.3" y1="433.5" x2="1340.3" y2="437.5" stroke="#c4c4c4" stroke-width="1.3"/>
<line x1="1387.0" y1="433.5" x2="1387.0" y2="437.5" stroke="#c4c4c4" stroke-width="1.3"/>
<line x1="1433.7" y1="433.5" x2="1433.7" y2="437.5" stroke="#c4c4c4" stroke-width="1.3"/>
<path d="M1015.0,446.7 C1017.0,445.3 1022.8,440.9 1026.7,438.3 C1030.6,435.7 1035.5,432.6 1038.3,431.3 C1041.1,430.1 1040.8,429.9 1043.3,430.8 C1045.8,431.7 1050.0,434.3 1053.3,436.7 C1056.6,439.1 1060.2,442.5 1063.3,445.0 C1066.4,447.5 1068.9,449.9 1071.7,451.7 C1074.5,453.4 1077.4,454.4 1080.0,455.5 C1082.6,456.6 1085.3,458.7 1087.5,458.3 C1089.7,457.9 1091.5,456.2 1093.3,453.3 C1095.1,450.4 1096.6,446.7 1098.3,441.0 C1100.0,435.3 1101.3,426.7 1103.3,419.0 C1105.2,411.3 1108.1,399.8 1110.0,395.0 C1111.9,390.2 1113.0,390.0 1114.7,390.0 C1116.4,390.0 1118.3,391.0 1120.0,395.0 C1121.7,399.0 1123.0,404.8 1125.0,414.0 C1127.0,423.2 1129.4,438.2 1131.7,450.0 C1134.0,461.8 1136.2,477.0 1138.9,484.6 C1141.6,492.2 1144.5,495.3 1147.8,495.7 C1151.1,496.1 1154.5,490.1 1158.9,486.8 C1163.4,483.5 1169.3,479.8 1174.5,475.7 C1179.7,471.6 1184.9,466.0 1190.1,462.3 C1195.3,458.6 1201.2,453.4 1205.7,453.4 C1210.2,453.4 1212.7,457.9 1216.8,462.3 C1220.9,466.8 1225.3,474.2 1230.1,480.1 C1234.9,486.0 1240.1,492.7 1245.7,497.9 C1251.3,503.1 1257.2,507.4 1263.5,511.3 C1269.8,515.2 1277.6,519.4 1283.5,521.3 C1289.4,523.1 1294.3,520.7 1299.1,522.4 C1303.9,524.1 1308.4,528.9 1312.5,531.3 C1316.6,533.7 1318.8,537.4 1323.6,536.9 C1328.4,536.4 1335.8,530.0 1341.4,528.0 C1347.0,526.0 1351.1,527.1 1357.0,525.1 C1362.9,523.1 1370.3,517.6 1377.0,515.7 C1383.7,513.8 1390.7,515.4 1397.0,513.5 C1403.3,511.6 1408.7,506.8 1414.8,504.6 C1420.9,502.4 1430.5,500.9 1433.7,500.2" fill="none" stroke="#363636" stroke-width="2.4" stroke-dasharray="4.3 2.1" stroke-linejoin="round"/>
<path d="M1015.0,454.2 C1016.7,452.7 1021.4,448.5 1025.0,445.0 C1028.6,441.5 1032.7,436.1 1036.7,433.3 C1040.7,430.5 1045.9,428.4 1049.2,428.0 C1052.5,427.6 1054.4,428.8 1056.7,430.8 C1059.0,432.8 1060.8,436.8 1063.3,440.0 C1065.8,443.2 1068.9,447.5 1071.7,450.0 C1074.5,452.5 1077.4,453.6 1080.0,455.0 C1082.6,456.4 1085.3,458.6 1087.5,458.3 C1089.7,458.0 1091.5,456.4 1093.3,453.3 C1095.1,450.2 1096.6,446.1 1098.3,440.0 C1100.0,433.9 1101.3,425.0 1103.3,416.7 C1105.2,408.4 1108.1,395.6 1110.0,390.0 C1111.9,384.4 1113.0,383.3 1114.7,383.3 C1116.4,383.3 1118.3,385.6 1120.0,390.0 C1121.7,394.4 1123.0,400.8 1125.0,410.0 C1127.0,419.2 1129.8,434.4 1131.7,445.0 C1133.7,455.6 1134.8,466.2 1136.7,473.5 C1138.7,480.8 1141.2,486.0 1143.4,489.0 C1145.6,492.0 1147.0,492.8 1150.0,491.3 C1153.0,489.8 1157.1,486.4 1161.2,480.1 C1165.3,473.8 1170.4,460.6 1174.5,453.4 C1178.6,446.2 1182.3,440.0 1185.6,436.7 C1188.9,433.4 1191.2,433.0 1194.5,433.4 C1197.8,433.8 1201.6,435.3 1205.7,439.0 C1209.8,442.7 1214.5,449.6 1219.0,455.7 C1223.5,461.8 1227.6,469.0 1232.4,475.7 C1237.2,482.4 1243.1,491.1 1247.9,495.7 C1252.7,500.3 1256.5,500.5 1261.3,503.5 C1266.1,506.5 1272.1,511.3 1276.9,513.5 C1281.7,515.7 1285.8,516.6 1290.2,516.8 C1294.7,517.0 1298.8,515.9 1303.6,514.6 C1308.4,513.3 1313.5,510.4 1319.1,509.1 C1324.6,507.8 1332.1,506.8 1336.9,506.8 C1341.7,506.8 1344.4,508.2 1348.1,509.1 C1351.8,510.0 1356.2,512.4 1359.2,512.4 C1362.2,512.4 1362.9,511.3 1365.9,509.1 C1368.9,506.9 1373.3,500.9 1377.0,499.0 C1380.7,497.1 1384.0,498.4 1388.1,497.5 C1392.2,496.6 1396.3,496.0 1401.5,493.5 C1406.7,491.0 1413.9,484.8 1419.3,482.4 C1424.7,480.0 1431.3,479.6 1433.7,479.0" fill="none" stroke="#222222" stroke-width="2.6" stroke-linejoin="round" stroke-linecap="round"/>
<text x="1077.2" y="586.0" class="lab" transform="translate(1077.2,0) scale(0.85,1) translate(-1077.2,0)">FC4</text>
<!-- FC4 axis labels -->
<text x="1047.6" y="348.6" class="num" text-anchor="end">4</text>
<rect x="1021.4" y="337.7" width="12.2" height="1.4" fill="#333"/>
<text x="1047.6" y="399.8" class="num" text-anchor="end">2</text>
<rect x="1021.4" y="389.7" width="12.2" height="1.4" fill="#333"/>
<text x="1047.6" y="502" class="num" text-anchor="end">2</text>
<text x="1047.6" y="552.8" class="num" text-anchor="end">4</text>
<text x="1047.6" y="603.4" class="num" text-anchor="end">6</text>
<text x="1153.4" y="424.5" class="num" text-anchor="middle">200</text>
<text x="1246.5" y="424.5" class="num" text-anchor="middle">400</text>
<text x="1342" y="424.5" class="num" text-anchor="middle">600</text>
<text x="1433.7" y="424.5" class="num" text-anchor="middle">800</text>
<!-- legend -->
<line x1="1248" y1="556.7" x2="1280.6" y2="556.7" stroke="#262626" stroke-width="2" stroke-dasharray="4 2.6"/>
<text x="1286.7" y="563.4" class="leg">Conformity</text>
<line x1="1248" y1="587.1" x2="1280.6" y2="587.1" stroke="#1c1c1c" stroke-width="2.4"/>
<text x="1288.1" y="595.9" class="leg">Obedience</text>
<!-- B -->
<text x="459.4" y="678.1" class="ttl">Conformity</text>
<text x="766.6" y="678" class="ttl">Obedience</text>
<clipPath id="hc1"><path d="M541.0,690.5 L554.0,690.2 L567.8,690.5 L577.4,693.9 L587.1,700.1 L596.7,708.3 L604.9,716.6 L611.8,724.8 L618.6,734.4 L625.5,745.4 L632.3,757.7 L637.8,770.1 L643.3,783.8 L647.4,797.5 L651.5,811.3 L654.5,823.0 L656.5,836.0 L657.2,856.9 L656.5,881.9 L652.0,896.7 L646.1,908.4 L637.3,920.2 L627.0,932.0 L616.7,940.9 L604.9,948.2 L594.5,954.1 L584.2,957.8 L575.0,958.8 L527.6,958.8 L519.0,957.0 L509.9,953.4 L498.1,946.8 L487.8,937.9 L477.4,927.6 L468.6,917.3 L461.2,905.5 L455.3,893.7 L450.9,879.0 L450.2,856.9 L450.9,836.0 L453.0,823.0 L455.5,812.0 L458.7,800.3 L462.8,786.6 L467.0,774.2 L472.4,761.8 L479.3,749.5 L486.2,737.1 L494.4,726.2 L502.6,716.6 L512.2,707.0 L521.8,698.5 L530.1,693.9 Z"/></clipPath>
<g clip-path="url(#hc1)">
<rect x="435.2" y="675.2" width="237.00000000000006" height="298.5999999999999" fill="#6a6a6a"/>
<g filter="url(#soft)">
<path d="M440,680 L670,680 L670,800 C655,790 640,775 628,760 C615,745 598,727 575,720 C555,716 530,716 510,722 C495,730 480,745 440,752 Z" fill="#606060"/>
<path d="M525.5,747.8 C545,744 565,742 581.5,743.4 C592,746 600,752 605,756.7 C615,764 624,770 628.7,777.3 C632,785 632.5,792 631.7,798 C630,804 628,808 625.8,809.8 C615,812 605,813 599.2,812.7 C585,812 575,811 563.9,809.8 C552,806 544,800 537.3,795 C530,790 525,785 522.6,780.3 C519,772 518.5,767 519.6,762.6 C520,755 522,750 525.5,747.8 Z" fill="#7a7a7a"/>
<path d="M440,811 L670,811 L670,870 L440,870 Z" fill="#717171"/>
<path d="M473.5,905 L473.5,850 C478,838 495,829 507,830 C518,831 528,840 534,850 C538,855 541,858 544,858.7 C550,857 553,855 557,855 C565,853 570,853 574,853.6 C582,855 588,858 591,862 L591,930 L473.5,930 Z" fill="#616161"/>
<path d="M574,860 C582,858 595,858 603,862 L603,925 L574,925 Z" fill="#6c6c6c"/>
<path d="M602.6,920 L602.6,855 C604,848 610,843.6 616,843.6 C623,844 628,846 629.4,848.6 C632,855 633,862 632.8,867 L632,920 Z" fill="#616161"/>
<path d="M440,900 C460,899 475,900 482,900.6 C495,902 500,903 507,904 C520,910 527,917 532,920.7 C542,923 550,924 557,924 L605,922 C620,918 640,912 670,905 L670,970 L440,970 Z" fill="#585858"/>
<path d="M557.5,886 C558,877 564,872 570,873 C576,876 578.5,886 579,898 L580,965 L557,965 Z" fill="#525252"/>
<path d="M591,922 C598,912 612,908 624,911 C634,915 638,922 636,932 L630,960 L591,960 Z" fill="#474747"/>
<path d="M440,832 L473.5,836 C474,855 474.5,880 473.5,898 L440,902 Z" fill="#757575"/>
<rect x="630" y="828" width="30" height="78" fill="url(#edg)"/>
</g>
</g>
<path d="M541.0,690.5 L554.0,690.2 L567.8,690.5 L577.4,693.9 L587.1,700.1 L596.7,708.3 L604.9,716.6 L611.8,724.8 L618.6,734.4 L625.5,745.4 L632.3,757.7 L637.8,770.1 L643.3,783.8 L647.4,797.5 L651.5,811.3 L654.5,823.0 L656.5,836.0 L657.2,856.9 L656.5,881.9 L652.0,896.7 L646.1,908.4 L637.3,920.2 L627.0,932.0 L616.7,940.9 L604.9,948.2 L594.5,954.1 L584.2,957.8 L575.0,958.8 L527.6,958.8 L519.0,957.0 L509.9,953.4 L498.1,946.8 L487.8,937.9 L477.4,927.6 L468.6,917.3 L461.2,905.5 L455.3,893.7 L450.9,879.0 L450.2,856.9 L450.9,836.0 L453.0,823.0 L455.5,812.0 L458.7,800.3 L462.8,786.6 L467.0,774.2 L472.4,761.8 L479.3,749.5 L486.2,737.1 L494.4,726.2 L502.6,716.6 L512.2,707.0 L521.8,698.5 L530.1,693.9 Z" fill="none" stroke="#4a4a4a" stroke-width="1.2" opacity="0.7"/>
<circle cx="553.5" cy="699.2" r="5" fill="url(#halo)"/><circle cx="553.5" cy="699.2" r="1.8" fill="#1e1e48"/>
<circle cx="527.9" cy="705" r="5" fill="url(#halo)"/><circle cx="527.9" cy="705" r="1.8" fill="#1e1e48"/>
<circle cx="578.6" cy="705" r="5" fill="url(#halo)"/><circle cx="578.6" cy="705" r="1.8" fill="#1e1e48"/>
<circle cx="513.1" cy="716.9" r="5" fill="url(#halo)"/><circle cx="513.1" cy="716.9" r="1.8" fill="#1e1e48"/>
<circle cx="592.8" cy="716.9" r="5" fill="url(#halo)"/><circle cx="592.8" cy="716.9" r="1.8" fill="#1e1e48"/>
<circle cx="505.5" cy="737.5" r="5" fill="url(#halo)"/><circle cx="505.5" cy="737.5" r="1.8" fill="#1e1e48"/>
<circle cx="528.5" cy="731.6" r="5" fill="url(#halo)"/><circle cx="528.5" cy="731.6" r="1.8" fill="#1e1e48"/>
<circle cx="553.5" cy="737.5" r="5" fill="url(#halo)"/><circle cx="553.5" cy="737.5" r="1.8" fill="#1e1e48"/>
<circle cx="579.2" cy="731.6" r="5" fill="url(#halo)"/><circle cx="579.2" cy="731.6" r="1.8" fill="#1e1e48"/>
<circle cx="602.2" cy="737.5" r="5" fill="url(#halo)"/><circle cx="602.2" cy="737.5" r="1.8" fill="#1e1e48"/>
<circle cx="481.3" cy="751.5" r="5" fill="url(#halo)"/><circle cx="481.3" cy="751.5" r="1.8" fill="#1e1e48"/>
<circle cx="625.8" cy="751.5" r="5" fill="url(#halo)"/><circle cx="625.8" cy="751.5" r="1.8" fill="#1e1e48"/>
<circle cx="487.5" cy="740.5" r="5" fill="url(#halo)"/><circle cx="487.5" cy="740.5" r="1.8" fill="#1e1e48"/>
<circle cx="619" cy="740.5" r="5" fill="url(#halo)"/><circle cx="619" cy="740.5" r="1.8" fill="#1e1e48"/>
<circle cx="469.5" cy="785.7" r="5" fill="url(#halo)"/><circle cx="469.5" cy="785.7" r="1.8" fill="#1e1e48"/>
<circle cx="476" cy="780.3" r="5" fill="url(#halo)"/><circle cx="476" cy="780.3" r="1.8" fill="#1e1e48"/>
<circle cx="493.1" cy="777.3" r="5" fill="url(#halo)"/><circle cx="493.1" cy="777.3" r="1.8" fill="#1e1e48"/>
<circle cx="522" cy="774.4" r="5" fill="url(#halo)"/><circle cx="522" cy="774.4" r="1.8" fill="#1e1e48"/>
<circle cx="553.5" cy="777.3" r="5" fill="url(#halo)"/><circle cx="553.5" cy="777.3" r="1.8" fill="#1e1e48"/>
<circle cx="585.1" cy="774.4" r="5" fill="url(#halo)"/><circle cx="585.1" cy="774.4" r="1.8" fill="#1e1e48"/>
<circle cx="614" cy="777.3" r="5" fill="url(#halo)"/><circle cx="614" cy="777.3" r="1.8" fill="#1e1e48"/>
<circle cx="631.7" cy="780.3" r="5" fill="url(#halo)"/><circle cx="631.7" cy="780.3" r="1.8" fill="#1e1e48"/>
<circle cx="637" cy="785.7" r="5" fill="url(#halo)"/><circle cx="637" cy="785.7" r="1.8" fill="#1e1e48"/>
<circle cx="465.1" cy="824.5" r="5" fill="url(#halo)"/><circle cx="465.1" cy="824.5" r="1.8" fill="#1e1e48"/>
<circle cx="476" cy="824.5" r="5" fill="url(#halo)"/><circle cx="476" cy="824.5" r="1.8" fill="#1e1e48"/>
<circle cx="490.7" cy="824.5" r="5" fill="url(#halo)"/><circle cx="490.7" cy="824.5" r="1.8" fill="#1e1e48"/>
<circle cx="522" cy="824.5" r="5" fill="url(#halo)"/><circle cx="522" cy="824.5" r="1.8" fill="#1e1e48"/>
<circle cx="553.5" cy="824.5" r="5" fill="url(#halo)"/><circle cx="553.5" cy="824.5" r="1.8" fill="#1e1e48"/>
<circle cx="585.1" cy="824.5" r="5" fill="url(#halo)"/><circle cx="585.1" cy="824.5" r="1.8" fill="#1e1e48"/>
<circle cx="614" cy="824.5" r="5" fill="url(#halo)"/><circle cx="614" cy="824.5" r="1.8" fill="#1e1e48"/>
<circle cx="630.2" cy="824.5" r="5" fill="url(#halo)"/><circle cx="630.2" cy="824.5" r="1.8" fill="#1e1e48"/>
<circle cx="639.9" cy="824.5" r="5" fill="url(#halo)"/><circle cx="639.9" cy="824.5" r="1.8" fill="#1e1e48"/>
<circle cx="469.5" cy="861.4" r="5" fill="url(#halo)"/><circle cx="469.5" cy="861.4" r="1.8" fill="#1e1e48"/>
<circle cx="476" cy="867.3" r="5" fill="url(#halo)"/><circle cx="476" cy="867.3" r="1.8" fill="#1e1e48"/>
<circle cx="493.1" cy="870.2" r="5" fill="url(#halo)"/><circle cx="493.1" cy="870.2" r="1.8" fill="#1e1e48"/>
<circle cx="522" cy="873.2" r="5" fill="url(#halo)"/><circle cx="522" cy="873.2" r="1.8" fill="#1e1e48"/>
<circle cx="553.5" cy="870.2" r="5" fill="url(#halo)"/><circle cx="553.5" cy="870.2" r="1.8" fill="#1e1e48"/>
<circle cx="585.1" cy="873.2" r="5" fill="url(#halo)"/><circle cx="585.1" cy="873.2" r="1.8" fill="#1e1e48"/>
<circle cx="614" cy="870.2" r="5" fill="url(#halo)"/><circle cx="614" cy="870.2" r="1.8" fill="#1e1e48"/>
<circle cx="630.2" cy="867.3" r="5" fill="url(#halo)"/><circle cx="630.2" cy="867.3" r="1.8" fill="#1e1e48"/>
<circle cx="637" cy="861.4" r="5" fill="url(#halo)"/><circle cx="637" cy="861.4" r="1.8" fill="#1e1e48"/>
<circle cx="481.3" cy="896.7" r="5" fill="url(#halo)"/><circle cx="481.3" cy="896.7" r="1.8" fill="#1e1e48"/>
<circle cx="491.6" cy="907.1" r="5" fill="url(#halo)"/><circle cx="491.6" cy="907.1" r="1.8" fill="#1e1e48"/>
<circle cx="504.9" cy="913" r="5" fill="url(#halo)"/><circle cx="504.9" cy="913" r="1.8" fill="#1e1e48"/>
<circle cx="527.9" cy="915.9" r="5" fill="url(#halo)"/><circle cx="527.9" cy="915.9" r="1.8" fill="#1e1e48"/>
<circle cx="553.5" cy="911.5" r="5" fill="url(#halo)"/><circle cx="553.5" cy="911.5" r="1.8" fill="#1e1e48"/>
<circle cx="579.2" cy="915.9" r="5" fill="url(#halo)"/><circle cx="579.2" cy="915.9" r="1.8" fill="#1e1e48"/>
<circle cx="602.2" cy="911.5" r="5" fill="url(#halo)"/><circle cx="602.2" cy="911.5" r="1.8" fill="#1e1e48"/>
<circle cx="616.9" cy="907.1" r="5" fill="url(#halo)"/><circle cx="616.9" cy="907.1" r="1.8" fill="#1e1e48"/>
<circle cx="624.3" cy="896.7" r="5" fill="url(#halo)"/><circle cx="624.3" cy="896.7" r="1.8" fill="#1e1e48"/>
<circle cx="501.9" cy="924.8" r="5" fill="url(#halo)"/><circle cx="501.9" cy="924.8" r="1.8" fill="#1e1e48"/>
<circle cx="513.7" cy="930.7" r="5" fill="url(#halo)"/><circle cx="513.7" cy="930.7" r="1.8" fill="#1e1e48"/>
<circle cx="528.5" cy="942.5" r="5" fill="url(#halo)"/><circle cx="528.5" cy="942.5" r="1.8" fill="#1e1e48"/>
<circle cx="553.5" cy="939.5" r="5" fill="url(#halo)"/><circle cx="553.5" cy="939.5" r="1.8" fill="#1e1e48"/>
<circle cx="579.2" cy="942.5" r="5" fill="url(#halo)"/><circle cx="579.2" cy="942.5" r="1.8" fill="#1e1e48"/>
<circle cx="593.3" cy="930.7" r="5" fill="url(#halo)"/><circle cx="593.3" cy="930.7" r="1.8" fill="#1e1e48"/>
<circle cx="605.1" cy="924.8" r="5" fill="url(#halo)"/><circle cx="605.1" cy="924.8" r="1.8" fill="#1e1e48"/>
<circle cx="553.5" cy="948.4" r="5" fill="url(#halo)"/><circle cx="553.5" cy="948.4" r="1.8" fill="#1e1e48"/>
<clipPath id="hc2"><path d="M826.8,693.0 L839.6,692.7 L853.2,693.0 L862.6,696.3 L872.2,702.4 L881.7,710.5 L889.7,718.7 L896.5,726.7 L903.2,736.2 L910.0,747.0 L916.7,759.1 L922.1,771.2 L927.6,784.7 L931.6,798.2 L935.6,811.7 L938.6,823.2 L940.6,836.0 L941.2,856.6 L940.6,881.1 L936.1,895.7 L930.3,907.2 L921.6,918.8 L911.5,930.4 L901.4,939.1 L889.7,946.3 L879.5,952.1 L869.3,955.8 L860.3,956.7 L813.6,956.7 L805.1,955.0 L796.2,951.4 L784.5,944.9 L774.4,936.2 L764.1,926.1 L755.5,915.9 L748.2,904.3 L742.4,892.7 L738.0,878.3 L737.4,856.6 L738.0,836.0 L740.1,823.2 L742.6,812.4 L745.7,800.9 L749.8,787.5 L753.9,775.3 L759.2,763.1 L766.0,751.0 L772.8,738.8 L780.9,728.1 L789.0,718.7 L798.4,709.2 L807.9,700.9 L816.1,696.3 Z"/></clipPath>
<g clip-path="url(#hc2)">
<rect x="722.4" y="677.7" width="233.80000000000007" height="294.0" fill="#6a6a6a"/>
<g filter="url(#soft)">
<path d="M720,680 L960,680 L960,780 C945,770 930,755 915,740 C900,725 880,714 860,711 C840,709 815,710 800,714 C785,720 770,735 755,750 C745,760 730,768 720,770 Z" fill="#5f5f5f"/>
<path d="M720,780 L790,780 L826,827 L826,850 L720,850 Z" fill="#656565"/>
<path d="M745,792 C752,788 762,789 767,795 C770,803 769,812 766,819 L745,820 Z" fill="#6f6f6f"/>
<path d="M872,745 C880,738 895,741 905,750 C912,757 918,765 920,773 C910,776 895,774 886,768 C878,762 873,754 872,745 Z" fill="#5d5d5d"/>
<path d="M786.6,752 C790,745 800,741 812,740 C830,738 850,738 862,740 C872,742 877,745 879,749.4 C882,757 884,763 886.4,767.2 C895,771 910,773 923.6,774.7 C932,782 937,792 938,805 L938.5,827 L826.8,827 C822,818 817,812 812,807.5 C805,802 798,798 793,793 C788,789 786.6,785 786.6,780 C786,770 786,760 786.6,752 Z" fill="#787878"/>
<path d="M720,826 L960,826 L960,846 L720,846 Z" fill="#6e6e6e"/>
<path d="M760,856 C765,848 770,843 777.7,841.3 C785,838 790,837 791.9,837 C798,838 802,840 806.1,842.8 C810,846 812,850 814.7,852.7 C818,856 822,858 827.5,859.8 C835,858 838,856 843.1,855.6 C848,855 852,854 855.9,854.1 C862,854 866,854 870.2,854.1 C876,853 880,852 884.4,851.3 C889,849 892,847 895.8,845.6 C900,845 904,845 908.6,845.6 C912,848 914,851 915.7,854.1 L918,905 L760,905 Z" fill="#636363"/>
<path d="M770.6,886.9 C773,884 777,882.6 780.5,882.6 C784,883 787,885 789,886.9 C793,892 796,896 799,899.7 C805,905 810,909 813.2,912.5 L815,965 L765,965 Z" fill="#565656"/>
<path d="M837.4,888.3 C840,883 845,879.8 848.8,879.8 C853,880 856,882 858.8,884 C861,890 862,895 863,899.7 C864,906 865,911 865.9,916.7 L866,930 L836,930 Z" fill="#585858"/>
<path d="M740,912 C760,913 790,914 815,914 L870,914 C890,913 920,912 960,912 L960,970 L720,970 Z" fill="#505050"/>
<path d="M775,930 C778,919 790,915 800,917 C810,922 815,932 814,945 L812,960 L775,960 Z" fill="#3f3f3f"/>
<path d="M891.5,928 C893,920 903,917 910,921 C914,926 913,937 911,945 L890,948 Z" fill="#444444"/>
<path d="M720,846 L760,848 C759,862 760,885 758,901 L720,905 Z" fill="#747474"/>
<rect x="912" y="830" width="33" height="72" fill="url(#edg)"/>
</g>
</g>
<path d="M826.8,693.0 L839.6,692.7 L853.2,693.0 L862.6,696.3 L872.2,702.4 L881.7,710.5 L889.7,718.7 L896.5,726.7 L903.2,736.2 L910.0,747.0 L916.7,759.1 L922.1,771.2 L927.6,784.7 L931.6,798.2 L935.6,811.7 L938.6,823.2 L940.6,836.0 L941.2,856.6 L940.6,881.1 L936.1,895.7 L930.3,907.2 L921.6,918.8 L911.5,930.4 L901.4,939.1 L889.7,946.3 L879.5,952.1 L869.3,955.8 L860.3,956.7 L813.6,956.7 L805.1,955.0 L796.2,951.4 L784.5,944.9 L774.4,936.2 L764.1,926.1 L755.5,915.9 L748.2,904.3 L742.4,892.7 L738.0,878.3 L737.4,856.6 L738.0,836.0 L740.1,823.2 L742.6,812.4 L745.7,800.9 L749.8,787.5 L753.9,775.3 L759.2,763.1 L766.0,751.0 L772.8,738.8 L780.9,728.1 L789.0,718.7 L798.4,709.2 L807.9,700.9 L816.1,696.3 Z" fill="none" stroke="#4a4a4a" stroke-width="1.2" opacity="0.7"/>
<circle cx="839.1" cy="701.6" r="5" fill="url(#halo)"/><circle cx="839.1" cy="701.6" r="1.8" fill="#1e1e48"/>
<circle cx="813.9" cy="707.3" r="5" fill="url(#halo)"/><circle cx="813.9" cy="707.3" r="1.8" fill="#1e1e48"/>
<circle cx="863.8" cy="707.3" r="5" fill="url(#halo)"/><circle cx="863.8" cy="707.3" r="1.8" fill="#1e1e48"/>
<circle cx="799.3" cy="719.0" r="5" fill="url(#halo)"/><circle cx="799.3" cy="719.0" r="1.8" fill="#1e1e48"/>
<circle cx="877.8" cy="719.0" r="5" fill="url(#halo)"/><circle cx="877.8" cy="719.0" r="1.8" fill="#1e1e48"/>
<circle cx="791.8" cy="739.2" r="5" fill="url(#halo)"/><circle cx="791.8" cy="739.2" r="1.8" fill="#1e1e48"/>
<circle cx="814.5" cy="733.4" r="5" fill="url(#halo)"/><circle cx="814.5" cy="733.4" r="1.8" fill="#1e1e48"/>
<circle cx="839.1" cy="739.2" r="5" fill="url(#halo)"/><circle cx="839.1" cy="739.2" r="1.8" fill="#1e1e48"/>
<circle cx="864.4" cy="733.4" r="5" fill="url(#halo)"/><circle cx="864.4" cy="733.4" r="1.8" fill="#1e1e48"/>
<circle cx="887.1" cy="739.2" r="5" fill="url(#halo)"/><circle cx="887.1" cy="739.2" r="1.8" fill="#1e1e48"/>
<circle cx="768.0" cy="753.0" r="5" fill="url(#halo)"/><circle cx="768.0" cy="753.0" r="1.8" fill="#1e1e48"/>
<circle cx="910.3" cy="753.0" r="5" fill="url(#halo)"/><circle cx="910.3" cy="753.0" r="1.8" fill="#1e1e48"/>
<circle cx="774.1" cy="742.1" r="5" fill="url(#halo)"/><circle cx="774.1" cy="742.1" r="1.8" fill="#1e1e48"/>
<circle cx="903.6" cy="742.1" r="5" fill="url(#halo)"/><circle cx="903.6" cy="742.1" r="1.8" fill="#1e1e48"/>
<circle cx="756.4" cy="786.6" r="5" fill="url(#halo)"/><circle cx="756.4" cy="786.6" r="1.8" fill="#1e1e48"/>
<circle cx="762.8" cy="781.3" r="5" fill="url(#halo)"/><circle cx="762.8" cy="781.3" r="1.8" fill="#1e1e48"/>
<circle cx="779.6" cy="778.3" r="5" fill="url(#halo)"/><circle cx="779.6" cy="778.3" r="1.8" fill="#1e1e48"/>
<circle cx="808.1" cy="775.5" r="5" fill="url(#halo)"/><circle cx="808.1" cy="775.5" r="1.8" fill="#1e1e48"/>
<circle cx="839.1" cy="778.3" r="5" fill="url(#halo)"/><circle cx="839.1" cy="778.3" r="1.8" fill="#1e1e48"/>
<circle cx="870.2" cy="775.5" r="5" fill="url(#halo)"/><circle cx="870.2" cy="775.5" r="1.8" fill="#1e1e48"/>
<circle cx="898.7" cy="778.3" r="5" fill="url(#halo)"/><circle cx="898.7" cy="778.3" r="1.8" fill="#1e1e48"/>
<circle cx="916.1" cy="781.3" r="5" fill="url(#halo)"/><circle cx="916.1" cy="781.3" r="1.8" fill="#1e1e48"/>
<circle cx="921.4" cy="786.6" r="5" fill="url(#halo)"/><circle cx="921.4" cy="786.6" r="1.8" fill="#1e1e48"/>
<circle cx="752.0" cy="824.7" r="5" fill="url(#halo)"/><circle cx="752.0" cy="824.7" r="1.8" fill="#1e1e48"/>
<circle cx="762.8" cy="824.7" r="5" fill="url(#halo)"/><circle cx="762.8" cy="824.7" r="1.8" fill="#1e1e48"/>
<circle cx="777.2" cy="824.7" r="5" fill="url(#halo)"/><circle cx="777.2" cy="824.7" r="1.8" fill="#1e1e48"/>
<circle cx="808.1" cy="824.7" r="5" fill="url(#halo)"/><circle cx="808.1" cy="824.7" r="1.8" fill="#1e1e48"/>
<circle cx="839.1" cy="824.7" r="5" fill="url(#halo)"/><circle cx="839.1" cy="824.7" r="1.8" fill="#1e1e48"/>
<circle cx="870.2" cy="824.7" r="5" fill="url(#halo)"/><circle cx="870.2" cy="824.7" r="1.8" fill="#1e1e48"/>
<circle cx="898.7" cy="824.7" r="5" fill="url(#halo)"/><circle cx="898.7" cy="824.7" r="1.8" fill="#1e1e48"/>
<circle cx="914.7" cy="824.7" r="5" fill="url(#halo)"/><circle cx="914.7" cy="824.7" r="1.8" fill="#1e1e48"/>
<circle cx="924.2" cy="824.7" r="5" fill="url(#halo)"/><circle cx="924.2" cy="824.7" r="1.8" fill="#1e1e48"/>
<circle cx="756.4" cy="861.0" r="5" fill="url(#halo)"/><circle cx="756.4" cy="861.0" r="1.8" fill="#1e1e48"/>
<circle cx="762.8" cy="866.8" r="5" fill="url(#halo)"/><circle cx="762.8" cy="866.8" r="1.8" fill="#1e1e48"/>
<circle cx="779.6" cy="869.6" r="5" fill="url(#halo)"/><circle cx="779.6" cy="869.6" r="1.8" fill="#1e1e48"/>
<circle cx="808.1" cy="872.6" r="5" fill="url(#halo)"/><circle cx="808.1" cy="872.6" r="1.8" fill="#1e1e48"/>
<circle cx="839.1" cy="869.6" r="5" fill="url(#halo)"/><circle cx="839.1" cy="869.6" r="1.8" fill="#1e1e48"/>
<circle cx="870.2" cy="872.6" r="5" fill="url(#halo)"/><circle cx="870.2" cy="872.6" r="1.8" fill="#1e1e48"/>
<circle cx="898.7" cy="869.6" r="5" fill="url(#halo)"/><circle cx="898.7" cy="869.6" r="1.8" fill="#1e1e48"/>
<circle cx="914.7" cy="866.8" r="5" fill="url(#halo)"/><circle cx="914.7" cy="866.8" r="1.8" fill="#1e1e48"/>
<circle cx="921.4" cy="861.0" r="5" fill="url(#halo)"/><circle cx="921.4" cy="861.0" r="1.8" fill="#1e1e48"/>
<circle cx="768.0" cy="895.7" r="5" fill="url(#halo)"/><circle cx="768.0" cy="895.7" r="1.8" fill="#1e1e48"/>
<circle cx="778.1" cy="905.9" r="5" fill="url(#halo)"/><circle cx="778.1" cy="905.9" r="1.8" fill="#1e1e48"/>
<circle cx="791.2" cy="911.7" r="5" fill="url(#halo)"/><circle cx="791.2" cy="911.7" r="1.8" fill="#1e1e48"/>
<circle cx="813.9" cy="914.6" r="5" fill="url(#halo)"/><circle cx="813.9" cy="914.6" r="1.8" fill="#1e1e48"/>
<circle cx="839.1" cy="910.2" r="5" fill="url(#halo)"/><circle cx="839.1" cy="910.2" r="1.8" fill="#1e1e48"/>
<circle cx="864.4" cy="914.6" r="5" fill="url(#halo)"/><circle cx="864.4" cy="914.6" r="1.8" fill="#1e1e48"/>
<circle cx="887.1" cy="910.2" r="5" fill="url(#halo)"/><circle cx="887.1" cy="910.2" r="1.8" fill="#1e1e48"/>
<circle cx="901.6" cy="905.9" r="5" fill="url(#halo)"/><circle cx="901.6" cy="905.9" r="1.8" fill="#1e1e48"/>
<circle cx="908.8" cy="895.7" r="5" fill="url(#halo)"/><circle cx="908.8" cy="895.7" r="1.8" fill="#1e1e48"/>
<circle cx="788.3" cy="923.3" r="5" fill="url(#halo)"/><circle cx="788.3" cy="923.3" r="1.8" fill="#1e1e48"/>
<circle cx="799.9" cy="929.1" r="5" fill="url(#halo)"/><circle cx="799.9" cy="929.1" r="1.8" fill="#1e1e48"/>
<circle cx="814.5" cy="940.7" r="5" fill="url(#halo)"/><circle cx="814.5" cy="940.7" r="1.8" fill="#1e1e48"/>
<circle cx="839.1" cy="937.8" r="5" fill="url(#halo)"/><circle cx="839.1" cy="937.8" r="1.8" fill="#1e1e48"/>
<circle cx="864.4" cy="940.7" r="5" fill="url(#halo)"/><circle cx="864.4" cy="940.7" r="1.8" fill="#1e1e48"/>
<circle cx="878.3" cy="929.1" r="5" fill="url(#halo)"/><circle cx="878.3" cy="929.1" r="1.8" fill="#1e1e48"/>
<circle cx="889.9" cy="923.3" r="5" fill="url(#halo)"/><circle cx="889.9" cy="923.3" r="1.8" fill="#1e1e48"/>
<circle cx="839.1" cy="946.5" r="5" fill="url(#halo)"/><circle cx="839.1" cy="946.5" r="1.8" fill="#1e1e48"/>
<rect x="1016.4" y="659.50" width="7" height="14.54" fill="rgb(20,20,20)"/>
<rect x="1016.4" y="675.84" width="7" height="14.54" fill="rgb(35,35,35)"/>
<rect x="1016.4" y="692.19" width="7" height="14.54" fill="rgb(49,49,49)"/>
<rect x="1016.4" y="708.53" width="7" height="14.54" fill="rgb(64,64,64)"/>
<rect x="1016.4" y="724.88" width="7" height="14.54" fill="rgb(78,78,78)"/>
<rect x="1016.4" y="741.22" width="7" height="14.54" fill="rgb(93,93,93)"/>
<rect x="1016.4" y="757.56" width="7" height="14.54" fill="rgb(107,107,107)"/>
<rect x="1016.4" y="773.91" width="7" height="14.54" fill="rgb(122,122,122)"/>
<rect x="1016.4" y="790.25" width="7" height="14.54" fill="rgb(136,136,136)"/>
<rect x="1016.4" y="806.59" width="7" height="14.54" fill="rgb(151,151,151)"/>
<rect x="1016.4" y="822.94" width="7" height="14.54" fill="rgb(165,165,165)"/>
<rect x="1016.4" y="839.28" width="7" height="14.54" fill="rgb(180,180,180)"/>
<rect x="1016.4" y="855.62" width="7" height="14.54" fill="rgb(194,194,194)"/>
<rect x="1016.4" y="871.97" width="7" height="14.54" fill="rgb(209,209,209)"/>
<rect x="1016.4" y="888.31" width="7" height="14.54" fill="rgb(223,223,223)"/>
<rect x="1016.4" y="904.66" width="7" height="14.54" fill="rgb(238,238,238)"/>
<rect x="1027.5" y="662.5" width="17" height="1.5" fill="#333"/>
<rect x="1035.3" y="654" width="1.5" height="17.8" fill="#333"/>
<text x="1046" y="677.7" class="cb" transform="translate(1046,0) scale(0.9,1) translate(-1046,0)">8</text>
<rect x="1027.6" y="931.3" width="17" height="1.5" fill="#444"/>
<text x="1046.5" y="946.6" class="cb" transform="translate(1046.5,0) scale(0.9,1) translate(-1046.5,0)">8</text>
</svg>
</body></html>
